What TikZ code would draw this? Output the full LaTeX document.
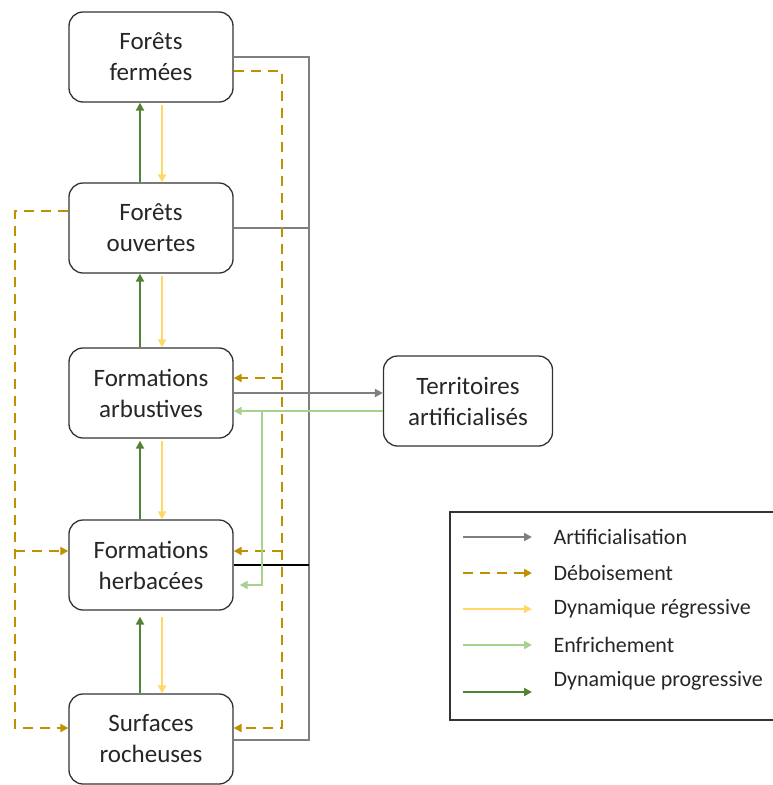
\documentclass[tikz,border=0pt]{standalone}
\usepackage{fontspec}
\setmainfont{Carlito}
\usetikzlibrary{arrows.meta}

\definecolor{artifgray}{HTML}{7F7F7F}
\definecolor{deboisgold}{HTML}{BF9000}
\definecolor{regryellow}{HTML}{FFD966}
\definecolor{enfrgreen}{HTML}{A9D18E}
\definecolor{progrgreen}{HTML}{548235}

\tikzset{
  milieu/.style={draw=black!80, line width=1.3pt, rounded corners=14pt, fill=white,
    minimum width=164pt, minimum height=90pt, align=center,
    font=\fontsize{25}{31}\selectfont, text=black!85},
  tip/.style={-{Triangle[length=8pt,width=8pt]}},
  artif/.style={draw=artifgray, line width=2.3pt},
  debois/.style={draw=deboisgold, line width=2.3pt, dash pattern=on 10pt off 7pt},
  regr/.style={draw=regryellow, line width=2.3pt},
  enfr/.style={draw=enfrgreen, line width=2.3pt},
  progr/.style={draw=progrgreen, line width=2.3pt},
  legtxt/.style={anchor=west, font=\fontsize{22}{26}\selectfont, text=black!85}
}

\begin{document}
\begin{tikzpicture}[x=1pt, y=-1pt]
\useasboundingbox (0,0) rectangle (772,785);
\def\xg{309}
\def\xd{282}

% milieux
\node[milieu] (ff) at (151,57) {Forêts\\fermées};
\node[milieu] (fo) at (151,228) {Forêts\\ouvertes};
\node[milieu] (fa) at (151,393) {Formations\\arbustives};
\node[milieu] (fh) at (151,565) {Formations\\herbacées};
\node[milieu] (sr) at (151,739) {Surfaces\\rocheuses};
\node[milieu, minimum width=169pt] (ta) at (468,401) {Territoires\\artificialisés};

% dynamiques progressive / regressive
\draw[progr, tip] ([xshift=-11pt]fo.north) -- ([xshift=-11pt]ff.south);
\draw[regr, tip] ([xshift=11pt,yshift=-2pt]ff.south) -- ([xshift=11pt]fo.north);
\draw[progr, tip] ([xshift=-11pt]fa.north) -- ([xshift=-11pt]fo.south);
\draw[regr, tip] ([xshift=11pt,yshift=-2pt]fo.south) -- ([xshift=11pt]fa.north);
\draw[progr, tip] ([xshift=-11pt]fh.north) -- ([xshift=-11pt,yshift=-2pt]fa.south);
\draw[regr, tip] ([xshift=11pt,yshift=-2pt]fa.south) -- ([xshift=11pt]fh.north);
\draw[progr, tip] ([xshift=-11pt]sr.north) -- ([xshift=-11pt,yshift=-6pt]fh.south);
\draw[regr, tip] ([xshift=11pt,yshift=-6pt]fh.south) -- ([xshift=11pt]sr.north);

% artificialisation
\coordinate (g1) at (\xg,57);
\coordinate (g2) at (\xg,740);
\draw[artif] (ff.east) -- (g1) -- (g2) -- (sr.east |- g2);
\draw[artif] (fo.east) -- (fo.east -| g1);
\draw[black, line width=2.3pt] (fh.east) -- (fh.east -| g1);
\draw[artif, tip] (fa.east) -- (ta.west |- fa.east);

% deboisement
\coordinate (dr) at (\xd,728);
\coordinate (dl) at (15,728);
\draw[debois, tip] ([yshift=-14pt]ff.east) -| (dr) -- (sr.east |- dr);
\draw[debois, tip] (\xd,378) -- (fa.east |- 0,378);
\draw[debois, tip] (\xd,551) -- (fh.east |- 0,551);
\draw[debois, tip] ([yshift=17pt]fo.west) -| (dl) -- (sr.west |- dl);
\draw[debois, tip] (15,551) -- (fh.west |- 0,551);

% enfrichement
\coordinate (e1) at (262,411);
\draw[enfr, tip] (ta.west |- e1) -- (fa.east |- e1);
\draw[enfr, tip] (e1) |- ([xshift=6pt,yshift=-20pt]fh.east);

% legende
\draw[black!80, line width=1.3pt] (780,512) -- (450,512) -- (450,720) -- (780,720);
\node[legtxt] (l1) at (550,537) {Artificialisation};
\node[legtxt] (l2) at (550,573) {Déboisement};
\node[legtxt] (l3) at (550,609) {Dynamique régressive};
\node[legtxt] (l4) at (550,645) {Enfrichement};
\node[legtxt] (l5) at (550,681) {Dynamique progressive};
\draw[artif, tip] ([xshift=-87pt]l1.west) -- ([xshift=-18pt]l1.west);
\draw[debois, tip] ([xshift=-87pt]l2.west) -- ([xshift=-18pt]l2.west);
\draw[regr, tip] ([xshift=-87pt]l3.west) -- ([xshift=-18pt]l3.west);
\draw[enfr, tip] ([xshift=-87pt]l4.west) -- ([xshift=-18pt]l4.west);
\draw[progr, tip] ([xshift=-87pt,yshift=-11pt]l5.west) -- ([xshift=-18pt,yshift=-11pt]l5.west);
\end{tikzpicture}
\end{document}
